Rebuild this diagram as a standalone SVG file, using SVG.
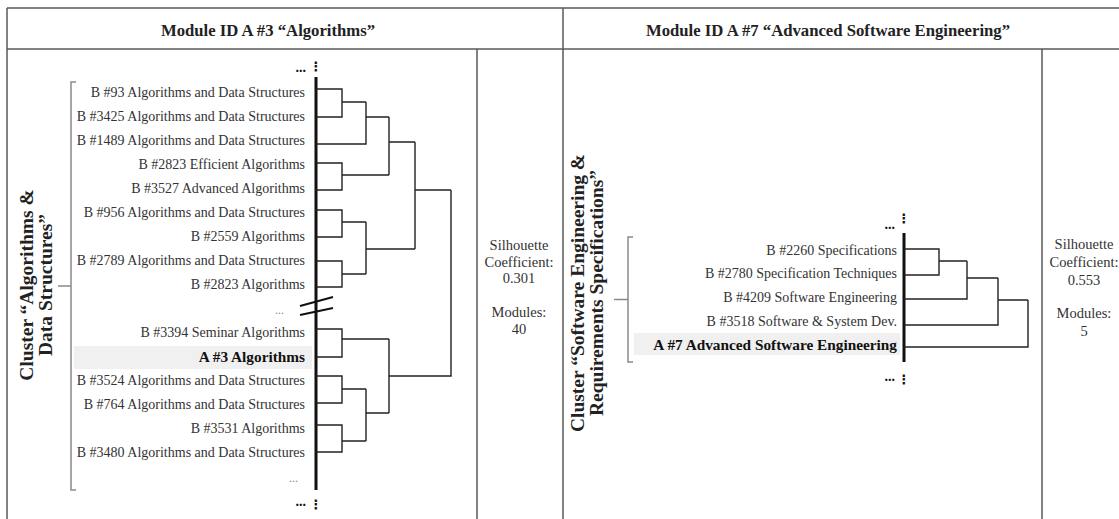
<svg xmlns="http://www.w3.org/2000/svg" width="1119" height="519" viewBox="0 0 1119 519">
<style>
.frame{stroke:#5a5a5a;stroke-width:1.5;fill:none}
.brk{stroke:#8a8a8a;stroke-width:1.5;fill:none}
.den{stroke:#222;stroke-width:1.4;fill:none}
.axis{stroke:#111;stroke-width:3;fill:none}
.lbl{font-family:"Liberation Serif",serif;font-size:14px;fill:#333;text-anchor:end}
.lblA{font-family:"Liberation Serif",serif;font-size:15.3px;font-weight:bold;fill:#111;text-anchor:end}
.hdr{font-family:"Liberation Serif",serif;font-size:16.7px;font-weight:bold;fill:#222;text-anchor:middle}
.clu{font-family:"Liberation Serif",serif;font-size:19.5px;font-weight:bold;fill:#222;text-anchor:middle}
.sil{font-family:"Liberation Serif",serif;font-size:14.5px;fill:#333;text-anchor:middle}
.ell{font-family:"Liberation Serif",serif;font-size:12px;fill:#888;text-anchor:end}
.ellb{font-family:"Liberation Serif",serif;font-size:14px;font-weight:bold;fill:#111;text-anchor:end}
.vd{font-family:"DejaVu Sans",sans-serif;font-size:13px;font-weight:bold;fill:#111;text-anchor:middle}
.hl{fill:#f0f0f0}
</style>
<rect width="1119" height="519" fill="#fff"/>
<g id="frame">
<path class="frame" d="M7 8H1119M7 49H1119M7 8V519M563 8V519M477 49V519M1042 49V519"/>
</g>
<g id="headers">
<text class="hdr" x="268" y="35.5">Module ID A #3 “Algorithms”</text>
<text class="hdr" x="828" y="35.5">Module ID A #7 “Advanced Software Engineering”</text>
</g>
<g id="cluster-left">
<path class="brk" d="M76 82H71V490H76M58 286H71"/>
<text class="clu" transform="translate(33,285) rotate(-90)">Cluster “Algorithms &amp;</text>
<text class="clu" transform="translate(52,285) rotate(-90)">Data Structures”</text>
</g>
<g id="cluster-right">
<path class="brk" d="M633 237H628V362H633M614 299.5H628"/>
<text class="clu" transform="translate(584,293) rotate(-90)">Cluster “Software Engineering &amp;</text>
<text class="clu" transform="translate(603,293) rotate(-90)">Requirements Specifications”</text>
</g>
<g id="highlights">
<rect class="hl" x="74" y="346" width="238" height="23"/>
<rect class="hl" x="634" y="333" width="266" height="22"/>
</g>
<g id="leaf-b93"><text class="lbl" x="305" y="96.5">B #93 Algorithms and Data Structures</text></g>
<g id="leaf-b3425"><text class="lbl" x="305" y="120.5">B #3425 Algorithms and Data Structures</text></g>
<g id="leaf-b1489"><text class="lbl" x="305" y="144.5">B #1489 Algorithms and Data Structures</text></g>
<g id="leaf-b2823e"><text class="lbl" x="305" y="168.5">B #2823 Efficient Algorithms</text></g>
<g id="leaf-b3527"><text class="lbl" x="305" y="192.5">B #3527 Advanced Algorithms</text></g>
<g id="leaf-b956"><text class="lbl" x="305" y="216.5">B #956 Algorithms and Data Structures</text></g>
<g id="leaf-b2559"><text class="lbl" x="305" y="240.5">B #2559 Algorithms</text></g>
<g id="leaf-b2789"><text class="lbl" x="305" y="264.5">B #2789 Algorithms and Data Structures</text></g>
<g id="leaf-b2823"><text class="lbl" x="305" y="288.5">B #2823 Algorithms</text></g>
<g id="leaf-gap1"><text class="ell" x="284" y="314">...</text></g>
<g id="leaf-b3394"><text class="lbl" x="305" y="336.5">B #3394 Seminar Algorithms</text></g>
<g id="leaf-a3"><text class="lblA" x="305" y="361.5">A #3 Algorithms</text></g>
<g id="leaf-b3524"><text class="lbl" x="305" y="384.5">B #3524 Algorithms and Data Structures</text></g>
<g id="leaf-b764"><text class="lbl" x="305" y="408.5">B #764 Algorithms and Data Structures</text></g>
<g id="leaf-b3531"><text class="lbl" x="305" y="432.5">B #3531 Algorithms</text></g>
<g id="leaf-b3480"><text class="lbl" x="305" y="456.5">B #3480 Algorithms and Data Structures</text></g>
<g id="leaf-gap2"><text class="ell" x="298" y="482">...</text></g>
<g id="left-more">
<text class="ellb" x="306" y="72">...</text>
<text class="vd" x="316" y="71">⋮</text>
<text class="ellb" x="306" y="506">...</text>
<text class="vd" x="316" y="509">⋮</text>
</g>
<g id="leaf-b2260"><text class="lbl" x="897" y="254.5">B #2260 Specifications</text></g>
<g id="leaf-b2780"><text class="lbl" x="897" y="277.5">B #2780 Specification Techniques</text></g>
<g id="leaf-b4209"><text class="lbl" x="897" y="301.5">B #4209 Software Engineering</text></g>
<g id="leaf-b3518"><text class="lbl" x="897" y="325.5">B #3518 Software &amp; System Dev.</text></g>
<g id="leaf-a7"><text class="lblA" x="897" y="349.5">A #7 Advanced Software Engineering</text></g>
<g id="right-more">
<text class="ellb" x="895" y="229">...</text>
<text class="vd" x="904" y="223">⋮</text>
<text class="ellb" x="895" y="381">...</text>
<text class="vd" x="904" y="384">⋮</text>
</g>
<g id="silhouette-left">
<text class="sil" x="519" y="250">Silhouette</text>
<text class="sil" x="519" y="267">Coefficient:</text>
<text class="sil" x="519" y="283">0.301</text>
<text class="sil" x="519" y="317">Modules:</text>
<text class="sil" x="519" y="334">40</text>
</g>
<g id="silhouette-right">
<text class="sil" x="1084" y="249">Silhouette</text>
<text class="sil" x="1084" y="267">Coefficient:</text>
<text class="sil" x="1084" y="285">0.553</text>
<text class="sil" x="1084" y="318">Modules:</text>
<text class="sil" x="1084" y="336">5</text>
</g>
<g id="connectors">
<path class="axis" d="M316 77V490"/>
<path class="den" d="M316 89H342V117H316M342 102H366M366 102V144H316M366 117H389M316 163H342V190H316M342 175H389M389 117V175M389 142H415M316 210H342V237H316M342 222H366M316 261H342V287H316M342 274H366M366 222V274M366 249H415M415 142V249M415 190H451M451 190V376H389M316 329H342V357H316M342 339H389M316 376H342V403H316M342 389H366M316 425H342V452H316M342 441H366M366 389V441M366 413H389M389 339V413"/>
<path stroke="#111" stroke-width="2" fill="none" d="M300 306L333 297M300 315L333 308"/>
<path class="axis" d="M904 233V362"/>
<path class="den" d="M904 249H939V275H904M939 261H967M967 261V299H904M967 278H998M998 278V325H904M998 300H1028M1028 300V347H904"/>
</g>
</svg>
